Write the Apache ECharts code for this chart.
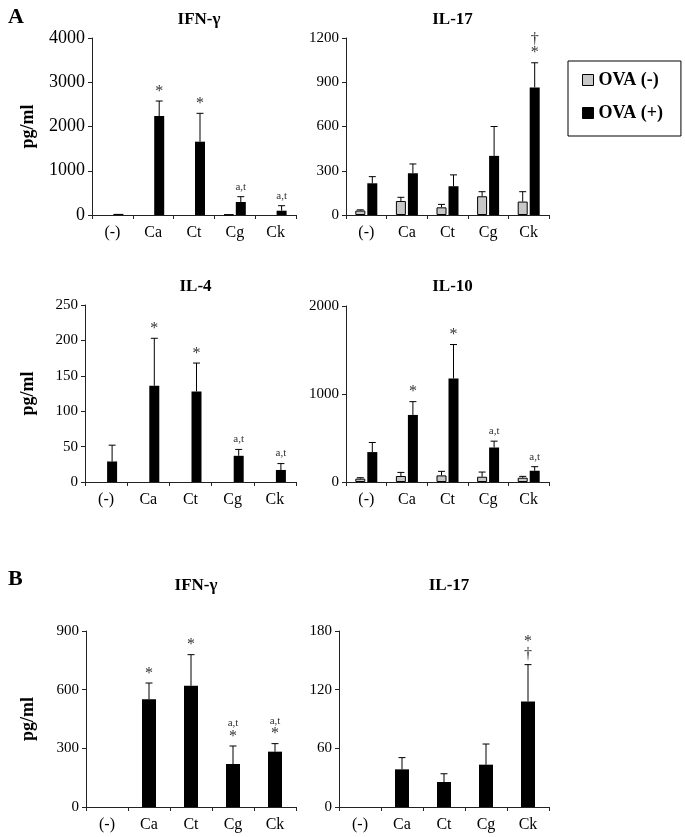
<!DOCTYPE html>
<html>
<head>
<meta charset="utf-8">
<script src="https://cdn.jsdelivr.net/npm/echarts@6/dist/echarts.min.js"></script>
<style>
html,body{margin:0;padding:0;background:#fff;}
#chart{width:685px;height:837px;}
</style>
</head>
<body>
<div id="chart"></div>
<script>
const categories = ['(-)', 'Ca', 'Ct', 'Cg', 'Ck'];

// Panel A, IFN-γ
const aIfnNeg = [0, 0, 0, 10, 0];
const aIfnNegSd = [0, 0, 0, 0, 0];
const aIfnPos = [25, 2237, 1657, 294, 97];
const aIfnPosSd = [0, 339, 641, 120, 113];
const aIfnNote = ['', '*', '*', 'a,t', 'a,t'];

// Panel A, IL-17
const aIl17Neg = [30, 95, 52, 127, 91];
const aIl17NegSd = [5, 25, 20, 31, 67];
const aIl17Pos = [215, 283, 195, 401, 865];
const aIl17PosSd = [45, 63, 77, 199, 167];
const aIl17Note = ['', '', '', '', '†\n*'];

// Panel A, IL-4
const aIl4Neg = [0, 0, 0, 0, 0];
const aIl4NegSd = [0, 0, 0, 0, 0];
const aIl4Pos = [29, 136, 128, 37, 17];
const aIl4PosSd = [23, 67, 40, 9, 9];
const aIl4Note = ['', '*', '*', 'a,t', 'a,t'];

// Panel A, IL-10
const aIl10Neg = [38, 68, 75, 60, 49];
const aIl10NegSd = [11, 41, 46, 53, 15];
const aIl10Pos = [340, 762, 1177, 392, 128];
const aIl10PosSd = [109, 151, 385, 72, 46];
const aIl10Note = ['', '*', '*', 'a,t', 'a,t'];

// Panel B, IFN-γ
const bIfnPos = [0, 551, 620, 220, 283];
const bIfnPosSd = [0, 83, 159, 92, 41];
const bIfnNote = ['', '*', '*', 'a,t\n*', 'a,t\n*'];

// Panel B, IL-17
const bIl17Pos = [0, 38.5, 25.6, 43.3, 108];
const bIl17PosSd = [0, 12, 8.4, 21.1, 37.6];
const bIl17Note = ['', '', '', '', '*\n†'];

// Axis scales
const yScales = [
  {max: 4000, interval: 1000},
  {max: 1200, interval: 300},
  {max: 250, interval: 50},
  {max: 2000, interval: 1000},
  {max: 900, interval: 300},
  {max: 180, interval: 60}
];
const panelTitles = ['IFN-γ', 'IL-17', 'IL-4', 'IL-10', 'IFN-γ', 'IL-17'];

const FONT = "'Liberation Serif', 'Times New Roman', serif";
const GREY = '#c8c8c8';
const AXC = '#222';

const grids = [
  {left: 92, top: 38, width: 204, height: 177},
  {left: 346, top: 38, width: 203, height: 177},
  {left: 85, top: 305, width: 211, height: 177},
  {left: 346, top: 306, width: 203, height: 176},
  {left: 86, top: 631, width: 210, height: 176},
  {left: 339, top: 631, width: 210, height: 176}
];
const yLabelSize = [18, 15, 15, 15, 15, 15];
const yNameGap = [55, 0, 48, 0, 49, 0];

const panels = [
  {neg: aIfnNeg, negSd: aIfnNegSd, pos: aIfnPos, posSd: aIfnPosSd, note: aIfnNote},
  {neg: aIl17Neg, negSd: aIl17NegSd, pos: aIl17Pos, posSd: aIl17PosSd, note: aIl17Note},
  {neg: aIl4Neg, negSd: aIl4NegSd, pos: aIl4Pos, posSd: aIl4PosSd, note: aIl4Note},
  {neg: aIl10Neg, negSd: aIl10NegSd, pos: aIl10Pos, posSd: aIl10PosSd, note: aIl10Note},
  {pos: bIfnPos, posSd: bIfnPosSd, note: bIfnNote},
  {pos: bIl17Pos, posSd: bIl17PosSd, note: bIl17Note}
];

const xAxes = [], yAxes = [], series = [], titles = [];

function noteRich(str) {
  return str.split('\n').map(l => (l === 'a,t' ? '{s|a,t}' : '{b|' + l + '}')).join('\n');
}
function hideZero(arr) {
  return arr.map(v => (v === 0 ? '-' : v));
}

function errSeries(i, vals, sds, offset, notes) {
  return {
    type: 'custom',
    xAxisIndex: i, yAxisIndex: i,
    clip: false,
    z: 5,
    data: vals.map((v, k) => [k, v, sds[k]]),
    renderItem: function (params, api) {
      const k = api.value(0), v = api.value(1), sd = api.value(2);
      const base = api.coord([k, v]);
      const top = api.coord([k, v + sd]);
      const x = base[0] + offset;
      const children = [];
      if (sd > 0) {
        children.push({type: 'line', shape: {x1: x, y1: base[1], x2: x, y2: top[1]}, style: {stroke: '#000', lineWidth: 1}});
        children.push({type: 'line', shape: {x1: x - 3.5, y1: top[1], x2: x + 3.5, y2: top[1]}, style: {stroke: '#000', lineWidth: 1}});
      }
      const note = notes ? notes[params.dataIndex] : '';
      if (note) {
        children.push({
          type: 'text',
          style: {
            x: x, y: top[1] - 3,
            text: noteRich(note),
            align: 'center', verticalAlign: 'bottom',
            fontFamily: FONT,
            rich: {
              s: {fontSize: 11, fontFamily: FONT, fill: '#333', lineHeight: 14, align: 'center'},
              b: {fontSize: 16, fontFamily: FONT, fill: '#333', lineHeight: 13, align: 'center'}
            }
          }
        });
      }
      return {type: 'group', children: children};
    }
  };
}

grids.forEach((g, i) => {
  const isLeft = (i === 0 || i === 2 || i === 4);
  xAxes.push({
    type: 'category', gridIndex: i, data: categories,
    axisLine: {lineStyle: {color: AXC, width: 1}},
    axisTick: {show: true, alignWithLabel: false, length: 4, lineStyle: {color: AXC}},
    axisLabel: {fontFamily: FONT, fontSize: 16, color: '#000', margin: 10, interval: 0}
  });
  yAxes.push({
    type: 'value', gridIndex: i, min: 0, max: yScales[i].max, interval: yScales[i].interval,
    axisLine: {show: true, lineStyle: {color: AXC, width: 1}},
    axisTick: {show: true, length: 4, lineStyle: {color: AXC}},
    splitLine: {show: false},
    axisLabel: {fontFamily: FONT, fontSize: yLabelSize[i], color: '#000', margin: 7, formatter: v => String(v)},
    name: isLeft ? 'pg/ml' : '',
    nameLocation: 'middle', nameGap: yNameGap[i], nameRotate: 90, nameMoveOverlap: false,
    nameTextStyle: {fontFamily: FONT, fontSize: 18, fontWeight: 'bold', color: '#000'}
  });
  const p = panels[i];
  const cx = g.left + g.width / 2;
  titles.push({
    text: panelTitles[i], left: cx, textAlign: 'center',
    top: i < 2 ? 6 : (i < 4 ? 273 : 572),
    textStyle: {fontFamily: FONT, fontSize: 17, fontWeight: 'bold', color: '#000'}
  });
  if (p.neg) {
    series.push({
      name: 'OVA (-)', type: 'bar', xAxisIndex: i, yAxisIndex: i, data: hideZero(p.neg),
      barWidth: 10, barGap: '20%',
      itemStyle: {color: GREY, borderColor: '#000', borderWidth: 1}
    });
    series.push({
      name: 'OVA (+)', type: 'bar', xAxisIndex: i, yAxisIndex: i, data: hideZero(p.pos),
      barWidth: 10, barGap: '20%',
      itemStyle: {color: '#000', borderColor: '#000', borderWidth: 0}
    });
    series.push(errSeries(i, p.neg, p.negSd, -6, null));
    series.push(errSeries(i, p.pos, p.posSd, 6, p.note));
  } else {
    series.push({
      name: 'OVA (+)', type: 'bar', xAxisIndex: i, yAxisIndex: i, data: hideZero(p.pos),
      barWidth: 14,
      itemStyle: {color: '#000'}
    });
    series.push(errSeries(i, p.pos, p.posSd, 0, p.note));
  }
});

titles.push({text: 'A', left: 3, top: 1, textStyle: {fontFamily: FONT, fontSize: 22, fontWeight: 'bold', color: '#000'}});
titles.push({text: 'B', left: 3, top: 563, textStyle: {fontFamily: FONT, fontSize: 22, fontWeight: 'bold', color: '#000'}});

const chart = echarts.init(document.getElementById('chart'), null, {renderer: 'canvas'});
chart.setOption({
  animation: false,
  backgroundColor: '#fff',
  title: titles,
  grid: grids,
  xAxis: xAxes,
  yAxis: yAxes,
  legend: {
    data: [
      {name: 'OVA (-)', itemStyle: {color: GREY, borderColor: '#000', borderWidth: 1}},
      {name: 'OVA (+)', itemStyle: {color: '#000', borderColor: '#000', borderWidth: 1}}
    ],
    orient: 'vertical', left: 568, top: 61,
    icon: 'rect', itemWidth: 11, itemHeight: 11, itemGap: 15,
    padding: [10, 18, 14, 14],
    borderColor: '#000', borderWidth: 1,
    textStyle: {fontFamily: FONT, fontSize: 18, fontWeight: 'bold', color: '#000'},
    selectedMode: false
  },
  series: series
});
</script>
</body>
</html>
